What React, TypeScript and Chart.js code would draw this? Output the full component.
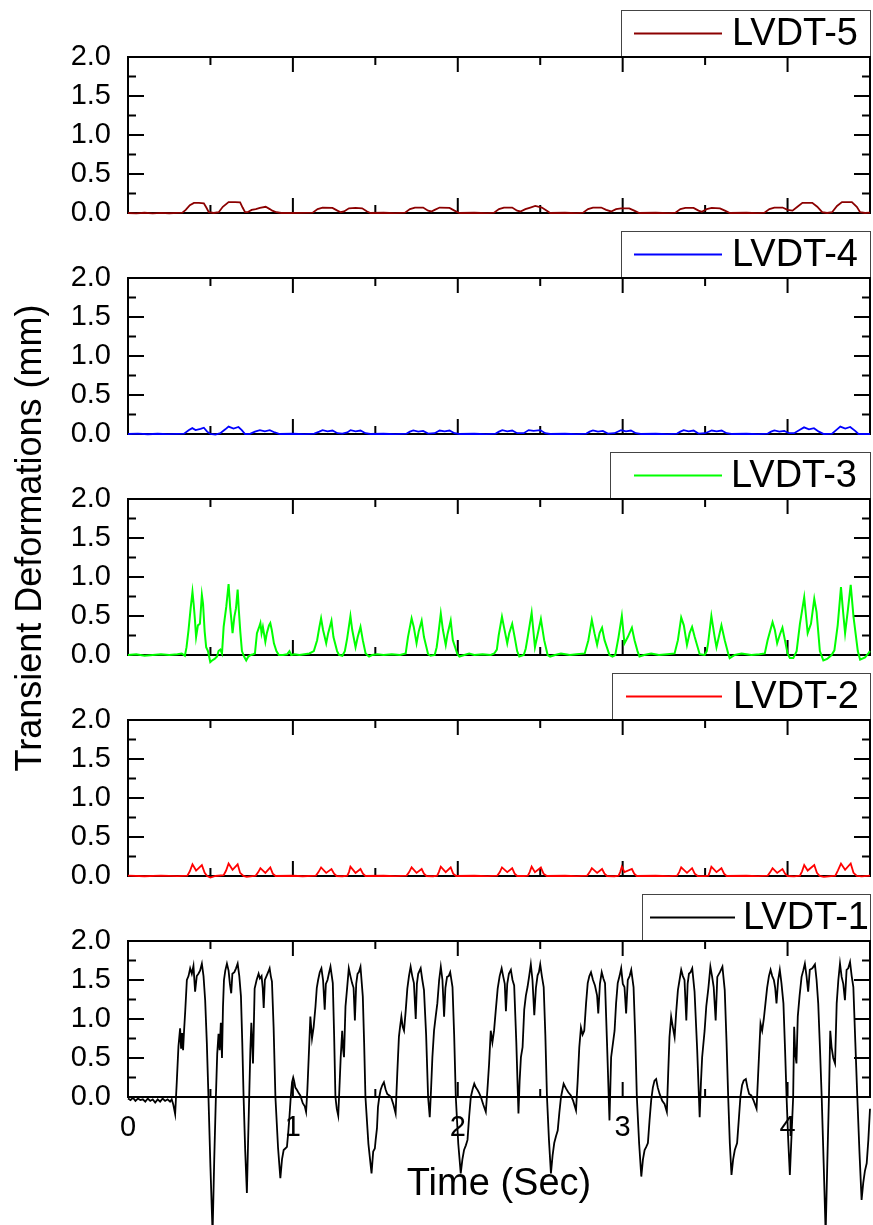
import React, { useEffect, useRef } from 'react';
import { Chart, registerables } from 'chart.js';

Chart.register(...registerables);

// ---------------- data (time in s, deformation in mm) ----------------
const seriesLabels = ['LVDT-5', 'LVDT-4', 'LVDT-3', 'LVDT-2', 'LVDT-1'];
const yTickValues = [0, 0.5, 1.0, 1.5, 2.0];
const xTickValues = [0, 1, 2, 3, 4];
const xAxisTitle = 'Time (Sec)';
const yAxisTitle = 'Transient Deformations (mm)';

const lvdt5: [number, number][] = [
  [0, 0], [0.05, -0.005], [0.1, 0.003], [0.15, -0.004], [0.2, 0.002], [0.25, -0.003], [0.3, 0.002],
  [0.33, 0.005], [0.35, 0.04], [0.375, 0.1], [0.4, 0.13], [0.43, 0.13], [0.46, 0.125], [0.475, 0.07], [0.49, 0.01],
  [0.52, 0.0], [0.55, 0.01], [0.575, 0.08], [0.61, 0.14], [0.65, 0.14], [0.68, 0.135], [0.695, 0.07], [0.71, 0.01],
  [0.725, 0.01], [0.75, 0.04], [0.775, 0.05], [0.8, 0.065], [0.835, 0.08], [0.86, 0.05], [0.875, 0.03], [0.9, 0.01], [0.93, 0.0],
  [1.0, 0.0], [1.06, 0.002], [1.12, 0.005], [1.15, 0.05], [1.18, 0.07], [1.24, 0.065], [1.27, 0.03], [1.29, 0.01],
  [1.31, 0.02], [1.34, 0.06], [1.38, 0.065], [1.42, 0.06], [1.45, 0.02], [1.47, 0.0], [1.55, 0.003], [1.62, -0.002],
  [1.68, 0.005], [1.71, 0.05], [1.74, 0.07], [1.79, 0.07], [1.82, 0.03], [1.84, 0.02], [1.86, 0.04], [1.89, 0.07],
  [1.95, 0.065], [1.98, 0.03], [2.01, 0.0], [2.1, 0.003], [2.18, -0.002], [2.22, 0.005], [2.25, 0.05], [2.28, 0.07],
  [2.33, 0.07], [2.36, 0.03], [2.38, 0.02], [2.41, 0.05], [2.44, 0.07], [2.47, 0.09], [2.51, 0.07], [2.54, 0.03],
  [2.56, 0.0], [2.65, 0.003], [2.72, -0.002], [2.76, 0.005], [2.79, 0.05], [2.82, 0.07], [2.87, 0.07], [2.9, 0.04],
  [2.93, 0.02], [2.96, 0.05], [2.99, 0.06], [3.04, 0.06], [3.07, 0.03], [3.1, 0.0], [3.2, 0.003], [3.28, -0.002],
  [3.32, 0.005], [3.35, 0.05], [3.38, 0.065], [3.43, 0.065], [3.46, 0.03], [3.48, 0.015], [3.51, 0.05], [3.54, 0.065],
  [3.59, 0.06], [3.62, 0.03], [3.65, 0.0], [3.75, 0.003], [3.82, -0.002], [3.86, 0.005], [3.89, 0.05], [3.92, 0.07],
  [3.97, 0.07], [4.0, 0.04], [4.03, 0.03], [4.06, 0.08], [4.09, 0.13], [4.15, 0.13], [4.18, 0.08], [4.21, 0.01],
  [4.24, 0.0], [4.27, 0.01], [4.3, 0.09], [4.33, 0.14], [4.39, 0.14], [4.42, 0.08], [4.44, 0.01], [4.47, 0.0], [4.5, 0.005],
];

const lvdt4: [number, number][] = [
  [0, 0], [0.06, 0.004], [0.12, -0.003], [0.18, 0.003], [0.24, -0.002], [0.3, 0.002], [0.34, 0.005],
  [0.37, 0.05], [0.39, 0.075], [0.41, 0.05], [0.44, 0.065], [0.46, 0.08], [0.48, 0.03], [0.5, 0.0], [0.53, -0.008], [0.56, 0.01],
  [0.59, 0.06], [0.61, 0.095], [0.64, 0.07], [0.67, 0.09], [0.69, 0.05], [0.71, 0.0], [0.74, 0.002],
  [0.77, 0.03], [0.8, 0.05], [0.83, 0.035], [0.86, 0.05], [0.89, 0.02], [0.92, 0.0], [1.0, 0.003], [1.07, -0.002], [1.13, 0.005],
  [1.16, 0.03], [1.18, 0.05], [1.21, 0.035], [1.24, 0.045], [1.27, 0.01], [1.3, 0.005], [1.33, 0.02], [1.35, 0.05],
  [1.38, 0.035], [1.41, 0.045], [1.44, 0.01], [1.47, 0.0], [1.55, 0.003], [1.62, -0.002], [1.69, 0.005],
  [1.71, 0.03], [1.73, 0.045], [1.76, 0.03], [1.79, 0.04], [1.82, 0.005], [1.86, 0.01], [1.89, 0.045], [1.92, 0.035],
  [1.95, 0.045], [1.98, 0.01], [2.01, 0.0], [2.1, 0.003], [2.17, -0.002], [2.23, 0.005],
  [2.25, 0.03], [2.27, 0.05], [2.3, 0.035], [2.33, 0.045], [2.36, 0.01], [2.4, 0.01], [2.43, 0.05], [2.46, 0.04],
  [2.5, 0.05], [2.53, 0.01], [2.56, 0.0], [2.65, 0.003], [2.72, -0.002], [2.78, 0.005],
  [2.8, 0.03], [2.82, 0.045], [2.85, 0.03], [2.88, 0.04], [2.91, 0.005], [2.95, 0.01], [2.99, 0.05], [3.02, 0.035],
  [3.05, 0.045], [3.08, 0.01], [3.11, 0.0], [3.2, 0.003], [3.27, -0.002], [3.33, 0.005],
  [3.35, 0.03], [3.37, 0.05], [3.4, 0.035], [3.43, 0.045], [3.46, 0.005], [3.5, 0.01], [3.54, 0.045], [3.57, 0.035],
  [3.6, 0.045], [3.63, 0.01], [3.66, 0.0], [3.75, 0.003], [3.82, -0.002], [3.88, 0.005],
  [3.9, 0.03], [3.92, 0.045], [3.95, 0.03], [3.98, 0.04], [4.01, 0.01], [4.04, 0.01], [4.08, 0.06], [4.1, 0.085],
  [4.13, 0.06], [4.16, 0.075], [4.19, 0.03], [4.22, 0.0], [4.27, 0.005],
  [4.3, 0.06], [4.32, 0.095], [4.35, 0.07], [4.38, 0.09], [4.41, 0.04], [4.43, 0.0], [4.47, 0.002], [4.5, 0.0],
];

const lvdt3: [number, number][] = [
  [0, 0], [0.05, 0.01], [0.1, -0.01], [0.15, 0.0], [0.2, 0.01], [0.25, 0.0], [0.3, 0.01], [0.326, 0.02], [0.345, -0.01],
  [0.355, 0.1], [0.367, 0.32], [0.38, 0.6], [0.391, 0.81], [0.398, 0.66], [0.406, 0.45], [0.413, 0.23], [0.424, 0.38],
  [0.436, 0.4], [0.448, 0.77], [0.455, 0.66], [0.465, 0.3], [0.474, 0.1], [0.485, 0.05], [0.499, -0.09], [0.51, -0.07],
  [0.525, -0.05], [0.54, -0.02], [0.549, 0.05], [0.56, 0.07], [0.57, 0.02], [0.58, 0.36], [0.596, 0.62], [0.61, 0.91],
  [0.62, 0.6], [0.627, 0.45], [0.634, 0.28], [0.645, 0.49], [0.655, 0.6], [0.665, 0.84], [0.672, 0.58], [0.681, 0.3],
  [0.691, 0.05], [0.704, -0.02], [0.717, -0.07], [0.73, -0.02], [0.745, 0.0], [0.76, 0.01], [0.77, 0.02], [0.782, 0.28],
  [0.794, 0.35], [0.803, 0.41], [0.81, 0.28], [0.818, 0.36], [0.833, 0.17], [0.842, 0.28], [0.855, 0.38], [0.863, 0.41],
  [0.872, 0.32], [0.885, 0.15], [0.9, 0.05], [0.915, 0.0], [0.94, 0.0], [0.965, 0.01], [0.979, 0.05], [0.99, 0.0],
  [1.01, 0.01], [1.04, 0.0], [1.07, 0.01], [1.1, 0.02], [1.127, 0.05], [1.147, 0.19], [1.16, 0.35], [1.171, 0.47],
  [1.183, 0.32], [1.202, 0.15], [1.214, 0.28], [1.234, 0.44], [1.246, 0.23], [1.268, 0.05], [1.28, 0.0], [1.3, -0.01],
  [1.315, 0.05], [1.329, 0.21], [1.349, 0.5], [1.36, 0.32], [1.38, 0.1], [1.393, 0.23], [1.41, 0.36], [1.424, 0.19],
  [1.441, 0.02], [1.451, 0.0], [1.462, -0.02], [1.48, 0.0], [1.512, 0.01], [1.55, 0.0], [1.6, 0.01], [1.65, 0.0],
  [1.684, 0.02], [1.698, 0.23], [1.72, 0.47], [1.733, 0.36], [1.75, 0.15], [1.763, 0.3], [1.781, 0.44], [1.795, 0.23],
  [1.82, 0.01], [1.835, -0.01], [1.86, 0.0], [1.872, 0.1], [1.88, 0.23], [1.897, 0.53], [1.91, 0.32], [1.927, 0.13],
  [1.937, 0.26], [1.957, 0.44], [1.97, 0.19], [1.998, 0.01], [2.01, -0.02], [2.04, 0.0], [2.069, 0.02], [2.1, 0.0],
  [2.15, 0.01], [2.2, 0.0], [2.221, 0.02], [2.237, 0.07], [2.248, 0.25], [2.268, 0.49], [2.28, 0.36], [2.3, 0.15],
  [2.312, 0.28], [2.33, 0.4], [2.345, 0.23], [2.36, 0.05], [2.373, -0.02], [2.4, 0.0], [2.412, 0.08], [2.424, 0.23],
  [2.448, 0.54], [2.468, 0.1], [2.484, 0.26], [2.504, 0.46], [2.524, 0.19], [2.545, 0.0], [2.56, -0.02], [2.59, 0.0],
  [2.626, 0.02], [2.68, 0.0], [2.72, 0.01], [2.77, 0.02], [2.792, 0.19], [2.813, 0.45], [2.829, 0.28], [2.845, 0.13],
  [2.86, 0.28], [2.875, 0.35], [2.89, 0.19], [2.92, 0.0], [2.938, -0.02], [2.955, 0.0], [2.975, 0.23], [2.995, 0.5],
  [3.011, 0.15], [3.031, 0.23], [3.056, 0.35], [3.072, 0.19], [3.09, 0.05], [3.102, -0.02], [3.13, 0.0], [3.173, 0.02],
  [3.22, 0.0], [3.27, 0.01], [3.315, 0.02], [3.335, 0.19], [3.355, 0.48], [3.371, 0.38], [3.39, 0.13], [3.406, 0.28],
  [3.421, 0.36], [3.437, 0.23], [3.467, 0.01], [3.497, 0.0], [3.51, 0.05], [3.518, 0.15], [3.538, 0.5], [3.558, 0.23],
  [3.569, 0.1], [3.583, 0.23], [3.599, 0.38], [3.619, 0.19], [3.64, 0.02], [3.649, -0.04], [3.68, 0.0], [3.721, 0.02],
  [3.78, 0.0], [3.83, 0.01], [3.862, 0.02], [3.879, 0.19], [3.909, 0.42], [3.923, 0.32], [3.937, 0.15], [3.953, 0.26],
  [3.969, 0.35], [3.984, 0.19], [4.0, 0.02], [4.014, -0.04], [4.035, -0.04], [4.055, 0.05], [4.075, 0.4], [4.101, 0.74],
  [4.112, 0.5], [4.122, 0.28], [4.142, 0.4], [4.162, 0.72], [4.176, 0.55], [4.196, 0.05], [4.217, -0.07], [4.24, -0.05],
  [4.267, 0.0], [4.284, 0.06], [4.304, 0.38], [4.324, 0.87], [4.337, 0.55], [4.349, 0.28], [4.366, 0.58], [4.383, 0.9],
  [4.4, 0.49], [4.426, 0.05], [4.44, -0.06], [4.47, -0.03], [4.49, 0.02], [4.5, 0.05],
];

const lvdt2: [number, number][] = [
  [0, 0.005], [0.1, -0.003], [0.2, 0.004], [0.3, -0.002], [0.36, 0.005],
  [0.375, 0.06], [0.391, 0.15], [0.413, 0.07], [0.448, 0.14], [0.465, 0.04], [0.48, 0.0], [0.5, -0.02], [0.53, 0.0], [0.58, 0.01],
  [0.595, 0.07], [0.61, 0.16], [0.634, 0.08], [0.665, 0.15], [0.68, 0.04], [0.7, 0.0], [0.72, -0.01], [0.775, 0.005],
  [0.79, 0.05], [0.803, 0.1], [0.833, 0.04], [0.863, 0.11], [0.878, 0.03], [0.895, 0.0], [1.0, 0.003], [1.06, -0.003], [1.14, 0.005],
  [1.155, 0.05], [1.171, 0.11], [1.202, 0.04], [1.234, 0.09], [1.25, 0.03], [1.265, 0.0], [1.3, -0.003], [1.33, 0.005],
  [1.34, 0.05], [1.349, 0.12], [1.38, 0.04], [1.41, 0.09], [1.425, 0.03], [1.44, 0.0], [1.55, 0.003], [1.62, -0.002], [1.69, 0.005],
  [1.705, 0.05], [1.72, 0.11], [1.75, 0.04], [1.781, 0.09], [1.795, 0.03], [1.81, 0.0], [1.85, -0.003], [1.875, 0.005],
  [1.885, 0.05], [1.897, 0.12], [1.927, 0.05], [1.957, 0.11], [1.972, 0.03], [1.99, 0.0], [2.1, 0.003], [2.18, -0.002], [2.24, 0.005],
  [2.255, 0.05], [2.268, 0.11], [2.3, 0.05], [2.33, 0.1], [2.345, 0.03], [2.36, 0.0], [2.4, 0.0], [2.425, 0.005],
  [2.436, 0.05], [2.448, 0.12], [2.468, 0.05], [2.504, 0.11], [2.52, 0.03], [2.54, 0.0], [2.65, 0.003], [2.72, -0.002], [2.785, 0.005],
  [2.8, 0.05], [2.813, 0.1], [2.845, 0.04], [2.875, 0.09], [2.89, 0.03], [2.905, 0.0], [2.95, -0.003], [2.975, 0.005],
  [2.985, 0.05], [2.995, 0.12], [3.011, 0.05], [3.056, 0.09], [3.07, 0.03], [3.085, 0.0], [3.2, 0.003], [3.28, -0.002], [3.33, 0.005],
  [3.343, 0.05], [3.355, 0.11], [3.39, 0.04], [3.421, 0.1], [3.437, 0.03], [3.455, 0.0], [3.5, -0.002], [3.52, 0.005],
  [3.528, 0.05], [3.538, 0.12], [3.569, 0.05], [3.599, 0.1], [3.615, 0.03], [3.63, 0.0], [3.75, 0.003], [3.82, -0.002], [3.88, 0.005],
  [3.895, 0.05], [3.909, 0.1], [3.937, 0.04], [3.969, 0.09], [3.985, 0.03], [4.0, 0.0], [4.04, -0.005], [4.075, 0.005],
  [4.088, 0.06], [4.101, 0.14], [4.122, 0.07], [4.162, 0.14], [4.178, 0.04], [4.195, 0.0], [4.22, -0.01], [4.29, 0.005],
  [4.305, 0.07], [4.324, 0.16], [4.349, 0.08], [4.383, 0.16], [4.4, 0.04], [4.42, 0.0], [4.45, -0.005], [4.5, 0.005],
];

const lvdt1: [number, number][] = [
  [0, -0.02], [0.015, -0.04], [0.03, -0.01], [0.045, -0.05], [0.06, -0.02], [0.075, -0.04], [0.09, -0.03], [0.105, -0.06],
  [0.12, -0.02], [0.135, -0.05], [0.15, -0.03], [0.165, -0.07], [0.18, -0.03], [0.195, -0.06], [0.21, -0.02], [0.225, -0.05],
  [0.24, -0.03], [0.255, -0.06], [0.265, -0.03], [0.275, -0.1], [0.286, -0.22], [0.296, 0.2], [0.306, 0.65], [0.316, 0.88],
  [0.322, 0.62], [0.328, 0.82], [0.334, 0.6], [0.34, 0.85], [0.347, 1.1], [0.357, 1.5], [0.367, 1.55], [0.377, 1.65],
  [0.387, 1.58], [0.397, 1.68], [0.407, 1.35], [0.417, 1.55], [0.427, 1.58], [0.437, 1.62], [0.448, 1.71], [0.458, 1.55],
  [0.468, 1.24], [0.478, 0.7], [0.488, 0.0], [0.5, -0.9], [0.513, -1.75], [0.523, -0.8], [0.533, 0.0], [0.541, 0.55],
  [0.549, 0.81], [0.556, 0.6], [0.563, 0.95], [0.57, 0.5], [0.576, 1.15], [0.582, 1.5], [0.59, 1.62], [0.6, 1.71],
  [0.61, 1.62], [0.618, 1.45], [0.626, 1.33], [0.633, 1.58], [0.645, 1.6], [0.655, 1.65], [0.665, 1.71], [0.675, 1.55],
  [0.685, 1.29], [0.693, 0.7], [0.701, 0.0], [0.711, -0.7], [0.721, -1.23], [0.728, -0.6], [0.735, 0.0], [0.742, 0.6],
  [0.748, 0.95], [0.753, 0.7], [0.758, 0.43], [0.763, 0.9], [0.768, 1.39], [0.78, 1.5], [0.792, 1.58], [0.8, 1.52],
  [0.81, 1.55], [0.817, 1.4], [0.823, 1.14], [0.83, 1.5], [0.84, 1.55], [0.85, 1.6], [0.859, 1.65], [0.866, 1.55],
  [0.873, 1.48], [0.883, 0.9], [0.894, 0.0], [0.91, -0.65], [0.924, -1.04], [0.934, -0.8], [0.944, -0.68], [0.954, -0.66],
  [0.964, -0.64], [0.972, -0.45], [0.979, -0.26], [0.987, 0.0], [0.995, 0.19], [1.002, 0.25], [1.007, 0.21], [1.015, 0.12],
  [1.025, 0.09], [1.035, 0.05], [1.045, 0.02], [1.06, -0.08], [1.072, -0.12], [1.08, -0.19], [1.088, 0.1], [1.096, 0.51],
  [1.106, 1.03], [1.116, 0.75], [1.126, 0.9], [1.137, 1.16], [1.145, 1.4], [1.153, 1.5], [1.163, 1.6], [1.173, 1.65],
  [1.183, 1.5], [1.193, 1.12], [1.2, 1.45], [1.21, 1.5], [1.218, 1.58], [1.228, 1.67], [1.242, 1.46], [1.25, 0.8],
  [1.258, 0.0], [1.266, -0.15], [1.275, -0.24], [1.282, 0.1], [1.29, 0.51], [1.299, 0.85], [1.305, 0.6], [1.31, 0.51],
  [1.319, 1.16], [1.329, 1.4], [1.339, 1.65], [1.349, 1.55], [1.359, 1.46], [1.368, 1.4], [1.376, 0.98], [1.384, 1.45],
  [1.392, 1.58], [1.4, 1.6], [1.41, 1.67], [1.424, 1.29], [1.432, 0.7], [1.44, 0.0], [1.458, -0.6], [1.477, -0.98],
  [1.487, -0.7], [1.497, -0.66], [1.502, -0.55], [1.51, -0.4], [1.516, -0.13], [1.524, 0.0], [1.532, 0.09], [1.542, 0.15],
  [1.552, 0.19], [1.562, 0.1], [1.572, 0.04], [1.585, 0.02], [1.595, 0.0], [1.61, -0.1], [1.623, -0.21], [1.633, 0.3],
  [1.643, 0.77], [1.65, 0.9], [1.658, 1.03], [1.666, 0.9], [1.674, 0.85], [1.684, 1.1], [1.694, 1.39], [1.704, 1.55],
  [1.714, 1.67], [1.724, 1.55], [1.734, 1.46], [1.745, 1.0], [1.752, 1.45], [1.76, 1.58], [1.775, 1.65], [1.785, 1.5],
  [1.795, 1.37], [1.808, 0.8], [1.82, 0.0], [1.83, -0.26], [1.838, 0.1], [1.846, 0.51], [1.856, 0.85], [1.866, 1.03],
  [1.876, 1.2], [1.887, 1.5], [1.897, 1.67], [1.907, 1.5], [1.917, 1.03], [1.925, 1.4], [1.935, 1.54], [1.945, 1.55],
  [1.954, 1.6], [1.968, 1.41], [1.978, 0.8], [1.988, 0.0], [2.003, -0.6], [2.018, -0.98], [2.028, -0.8], [2.038, -0.68],
  [2.049, -0.62], [2.059, -0.55], [2.069, -0.25], [2.079, 0.0], [2.09, 0.1], [2.1, 0.17], [2.11, 0.12], [2.12, 0.09],
  [2.13, 0.05], [2.14, 0.0], [2.155, -0.1], [2.17, -0.19], [2.18, 0.1], [2.19, 0.43], [2.2, 0.85], [2.21, 0.7],
  [2.22, 0.85], [2.23, 1.1], [2.242, 1.39], [2.254, 1.55], [2.266, 1.65], [2.276, 1.54], [2.285, 1.45], [2.292, 1.1],
  [2.3, 1.45], [2.31, 1.58], [2.322, 1.63], [2.332, 1.5], [2.342, 1.43], [2.355, 0.7], [2.368, -0.21], [2.375, 0.2],
  [2.383, 0.51], [2.393, 0.64], [2.403, 1.12], [2.413, 1.3], [2.423, 1.41], [2.433, 1.55], [2.443, 1.7], [2.453, 1.5],
  [2.464, 1.05], [2.474, 1.4], [2.484, 1.56], [2.492, 1.6], [2.5, 1.7], [2.51, 1.55], [2.521, 1.41], [2.531, 0.8],
  [2.541, 0.0], [2.553, -0.55], [2.565, -0.98], [2.575, -0.75], [2.585, -0.59], [2.596, -0.5], [2.606, -0.43], [2.616, -0.2],
  [2.626, 0.0], [2.642, 0.17], [2.656, 0.11], [2.67, 0.06], [2.686, 0.02], [2.7, -0.05], [2.717, -0.17], [2.727, 0.2],
  [2.737, 0.64], [2.747, 0.89], [2.757, 0.8], [2.767, 0.85], [2.778, 1.2], [2.788, 1.46], [2.798, 1.55], [2.808, 1.6],
  [2.82, 1.5], [2.832, 1.43], [2.845, 1.3], [2.852, 1.07], [2.862, 1.45], [2.873, 1.6], [2.883, 1.52], [2.893, 1.46],
  [2.905, 0.7], [2.92, -0.3], [2.93, 0.51], [2.951, 0.85], [2.96, 1.2], [2.97, 1.46], [2.981, 1.55], [2.991, 1.65],
  [3.001, 1.45], [3.011, 1.41], [3.021, 1.07], [3.031, 1.5], [3.042, 1.55], [3.052, 1.63], [3.066, 1.41], [3.076, 0.8],
  [3.086, 0.0], [3.1, -0.6], [3.113, -1.02], [3.123, -0.8], [3.133, -0.68], [3.143, -0.64], [3.153, -0.59], [3.163, -0.3],
  [3.173, -0.04], [3.183, 0.12], [3.193, 0.21], [3.203, 0.23], [3.213, 0.12], [3.224, 0.04], [3.24, -0.05], [3.254, -0.09],
  [3.268, -0.19], [3.276, 0.3], [3.284, 0.77], [3.294, 1.03], [3.304, 0.9], [3.315, 0.77], [3.325, 1.1], [3.335, 1.37],
  [3.345, 1.5], [3.355, 1.63], [3.365, 1.55], [3.375, 1.5], [3.386, 0.98], [3.394, 1.45], [3.402, 1.58], [3.412, 1.6],
  [3.422, 1.65], [3.436, 1.35], [3.452, 0.6], [3.467, -0.26], [3.475, 0.2], [3.482, 0.51], [3.497, 0.85], [3.507, 1.16],
  [3.52, 1.4], [3.532, 1.67], [3.542, 1.55], [3.552, 1.41], [3.564, 0.98], [3.574, 1.54], [3.59, 1.6], [3.605, 1.67],
  [3.619, 1.37], [3.63, 0.7], [3.64, 0.0], [3.65, -0.6], [3.66, -1.0], [3.67, -0.8], [3.68, -0.68], [3.694, -0.59],
  [3.704, -0.3], [3.714, 0.0], [3.724, 0.15], [3.734, 0.21], [3.747, 0.23], [3.757, 0.12], [3.767, 0.04], [3.78, 0.02],
  [3.795, -0.05], [3.812, -0.15], [3.824, 0.4], [3.836, 0.94], [3.846, 0.85], [3.856, 1.0], [3.866, 1.2], [3.876, 1.4],
  [3.887, 1.55], [3.897, 1.63], [3.907, 1.55], [3.917, 1.5], [3.925, 1.4], [3.933, 1.2], [3.943, 1.5], [3.953, 1.63],
  [3.963, 1.46], [3.975, 1.2], [3.985, 0.6], [3.994, 0.0], [4.004, -0.55], [4.014, -1.0], [4.024, -0.5], [4.034, 0.0],
  [4.04, 0.9], [4.047, 0.55], [4.054, 0.43], [4.062, 1.03], [4.073, 1.3], [4.085, 1.54], [4.095, 1.62], [4.105, 1.71],
  [4.115, 1.55], [4.125, 1.35], [4.135, 1.63], [4.15, 1.65], [4.166, 1.7], [4.176, 1.5], [4.186, 1.2], [4.197, 0.6],
  [4.207, 0.0], [4.219, -0.85], [4.231, -1.75], [4.241, -0.85], [4.251, 0.0], [4.259, 0.85], [4.267, 0.64], [4.277, 0.5],
  [4.288, 0.43], [4.298, 1.2], [4.308, 1.5], [4.318, 1.71], [4.328, 1.54], [4.338, 1.45], [4.348, 1.24], [4.358, 1.63],
  [4.368, 1.65], [4.379, 1.73], [4.389, 1.55], [4.399, 1.41], [4.411, 0.7], [4.423, 0.0], [4.436, -0.7], [4.449, -1.32],
  [4.459, -1.1], [4.469, -0.95], [4.48, -0.85], [4.49, -0.55], [4.5, -0.15],
];

const seriesData = [lvdt5, lvdt4, lvdt3, lvdt2, lvdt1];

// ---------------- styles / layout ----------------
const W = 873;
const H = 1225;
const PLOT_LEFT = 128;
const PLOT_RIGHT = 870;
const PANEL_TOPS = [57, 278, 499, 720, 941];
const PANEL_H = 156;
const X_AXIS_H = 110;
const FONT = '"Liberation Sans", Arial, Helvetica, sans-serif';
const COLORS = ['#8B0000', '#0000FF', '#00FF00', '#FF0000', '#000000'];
const LINE_W = [1.8, 1.8, 2, 1.8, 1.8];
const LEGEND_LEFT = [621, 621, 610, 612, 642];
const LEGEND_LINE = [[634, 722], [634, 722], [634, 722], [626, 722], [650, 735]];
const LEGEND_TEXT_X = [732, 732, 731, 733, 743];
const X_MAJOR = [1, 2, 3, 4];
const X_MINOR = [0.5, 1.5, 2.5, 3.5];
const Y_MAJOR = [0.5, 1.0, 1.5];
const Y_MINOR = [0.25, 0.75, 1.25, 1.75];

const framePlugin = {
  id: 'frameTicks',
  beforeDatasetsDraw(chart: any) {
    const { ctx, chartArea: a, scales } = chart;
    const x = scales.x;
    const y = scales.y;
    ctx.save();
    ctx.strokeStyle = '#000';
    ctx.lineWidth = 2;
    ctx.lineCap = 'butt';
    ctx.beginPath();
    const tick = (x1: number, y1: number, x2: number, y2: number) => {
      ctx.moveTo(x1, y1);
      ctx.lineTo(x2, y2);
    };
    X_MAJOR.forEach((v) => {
      const px = x.getPixelForValue(v);
      tick(px, a.bottom, px, a.bottom - 15);
      tick(px, a.top, px, a.top + 15);
    });
    X_MINOR.forEach((v) => {
      const px = x.getPixelForValue(v);
      tick(px, a.bottom, px, a.bottom - 8);
      tick(px, a.top, px, a.top + 8);
    });
    Y_MAJOR.forEach((v) => {
      const py = y.getPixelForValue(v);
      tick(a.left, py, a.left + 16, py);
      tick(a.right, py, a.right - 16, py);
    });
    Y_MINOR.forEach((v) => {
      const py = y.getPixelForValue(v);
      tick(a.left, py, a.left + 8, py);
      tick(a.right, py, a.right - 8, py);
    });
    ctx.stroke();
    ctx.strokeRect(a.left, a.top, a.right - a.left, a.bottom - a.top);
    ctx.restore();
  },
};

const makeLegendPlugin = (i: number) => ({
  id: 'boxLegend',
  beforeDatasetsDraw(chart: any) {
    const { ctx, chartArea: a } = chart;
    const ds = chart.data.datasets[0];
    const top = a.top - 47;
    const left = LEGEND_LEFT[i];
    const right = a.right;
    const mid = top + 23.5;
    ctx.save();
    ctx.fillStyle = '#fff';
    ctx.fillRect(left, top, right - left, a.top - top);
    ctx.strokeStyle = '#444';
    ctx.lineWidth = 1;
    ctx.strokeRect(left + 0.5, top + 0.5, right - left, a.top - top);
    ctx.strokeStyle = ds.borderColor;
    ctx.lineWidth = ds.borderWidth;
    ctx.beginPath();
    ctx.moveTo(LEGEND_LINE[i][0], mid);
    ctx.lineTo(LEGEND_LINE[i][1], mid);
    ctx.stroke();
    ctx.fillStyle = '#000';
    ctx.font = `38px ${FONT}`;
    ctx.textAlign = 'left';
    ctx.textBaseline = 'middle';
    ctx.fillText(ds.label, LEGEND_TEXT_X[i], mid + 1);
    ctx.restore();
  },
});

const yTitlePlugin = {
  id: 'sharedYTitle',
  afterDraw(chart: any) {
    const { ctx } = chart;
    ctx.save();
    ctx.translate(41, 538);
    ctx.rotate(-Math.PI / 2);
    ctx.fillStyle = '#000';
    ctx.font = `36px ${FONT}`;
    ctx.textAlign = 'center';
    ctx.textBaseline = 'alphabetic';
    ctx.fillText(yAxisTitle, 0, 0);
    ctx.restore();
  },
};

function buildConfig(i: number): any {
  const isLast = i === seriesLabels.length - 1;
  const top = PANEL_TOPS[i];
  const bottomPad = isLast ? H - (top + PANEL_H) - X_AXIS_H : H - (top + PANEL_H);
  return {
    type: 'line',
    data: {
      datasets: [
        {
          label: seriesLabels[i],
          data: seriesData[i].map(([t, v]) => ({ x: t, y: v })),
          borderColor: COLORS[i],
          backgroundColor: COLORS[i],
          borderWidth: LINE_W[i],
          pointRadius: 0,
          tension: 0,
          fill: false,
          clip: false,
        },
      ],
    },
    options: {
      responsive: false,
      animation: false,
      events: [],
      layout: { padding: { left: 0, right: W - PLOT_RIGHT, top, bottom: bottomPad } },
      plugins: { legend: { display: false }, tooltip: { enabled: false }, title: { display: false } },
      scales: {
        x: {
          type: 'linear',
          min: 0,
          max: 4.5,
          display: isLast,
          grid: { display: false, drawTicks: false },
          border: { display: false },
          afterBuildTicks: (s: any) => {
            s.ticks = xTickValues.map((v) => ({ value: v }));
          },
          ticks: {
            font: { family: FONT, size: 29 },
            color: '#000',
            padding: 14,
            maxRotation: 0,
            autoSkip: false,
            callback: (v: any) => String(v),
          },
          title: {
            display: isLast,
            text: xAxisTitle,
            font: { family: FONT, size: 38 },
            color: '#000',
            padding: 0,
          },
          afterFit: (s: any) => {
            s.height = isLast ? X_AXIS_H : 0;
          },
        },
        y: {
          type: 'linear',
          min: 0,
          max: 2,
          grid: { display: false, drawTicks: false },
          border: { display: false },
          afterBuildTicks: (s: any) => {
            s.ticks = yTickValues.map((v) => ({ value: v }));
          },
          ticks: {
            font: { family: FONT, size: 29 },
            color: '#000',
            padding: 17,
            callback: (v: any) => Number(v).toFixed(1),
          },
          afterFit: (s: any) => {
            s.width = PLOT_LEFT;
          },
        },
      },
    },
    plugins: i === 0 ? [makeLegendPlugin(i), framePlugin, yTitlePlugin] : [makeLegendPlugin(i), framePlugin],
  };
}

export default function App() {
  const canvases = useRef<(HTMLCanvasElement | null)[]>([]);

  useEffect(() => {
    const charts = seriesLabels.map((_, i) => new Chart(canvases.current[i] as HTMLCanvasElement, buildConfig(i)));
    return () => {
      charts.forEach((c) => c.destroy());
    };
  }, []);

  return (
    <div style={{ position: 'absolute', left: 0, top: 0, width: W, height: H, background: '#fff', overflow: 'hidden' }}>
      {seriesLabels.map((label, i) => (
        <canvas
          key={label}
          ref={(el) => {
            canvases.current[i] = el;
          }}
          width={W}
          height={H}
          style={{ position: 'absolute', left: 0, top: 0, width: W, height: H }}
        />
      ))}
    </div>
  );
}
